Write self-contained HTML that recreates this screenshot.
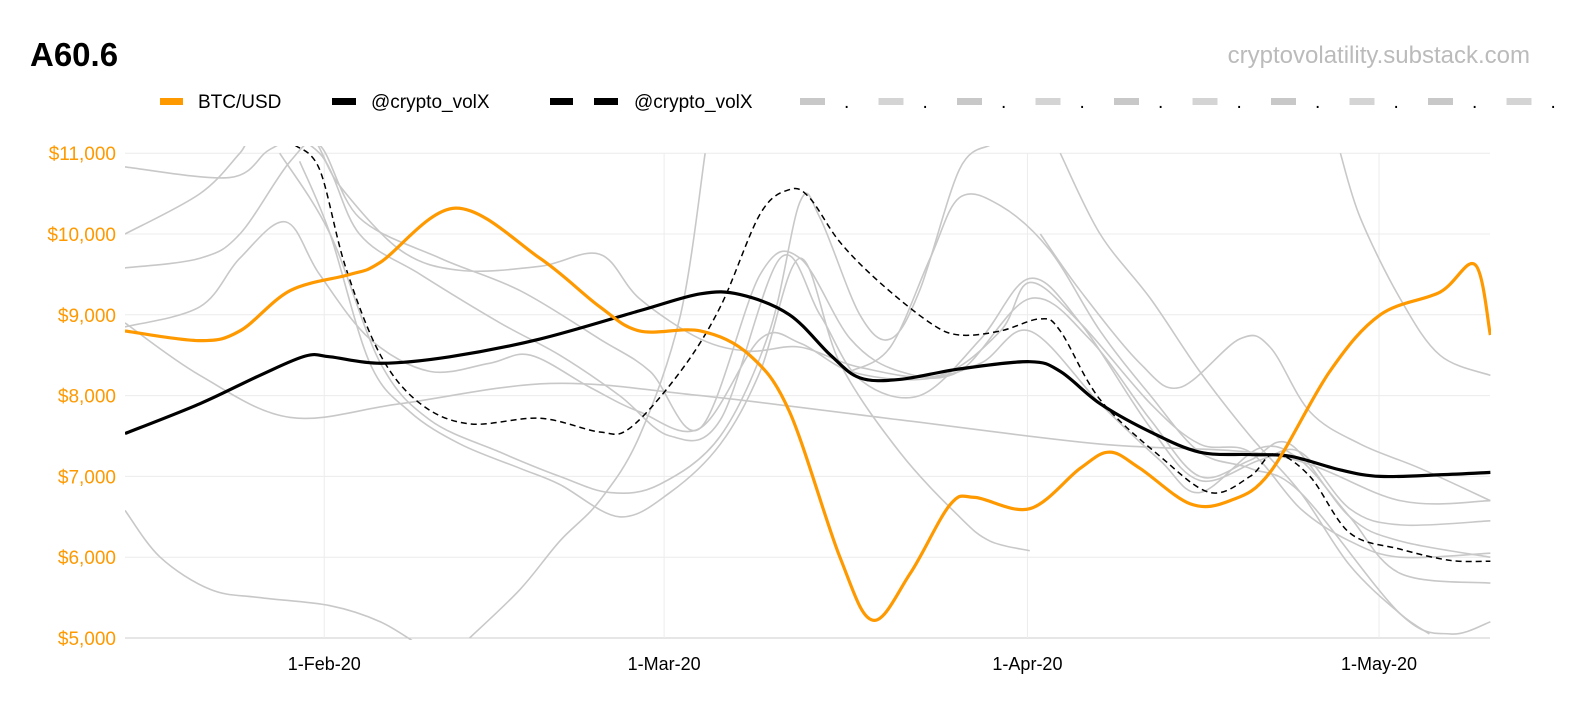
<!DOCTYPE html>
<html><head><meta charset="utf-8"><style>
body{margin:0;background:#fff;font-family:"Liberation Sans",sans-serif}
svg{display:block}
</style></head><body>
<svg id="chart" width="1584" height="722" xmlns="http://www.w3.org/2000/svg">
<rect width="1584" height="722" fill="#fff"/>
<text x="30" y="66" font-size="33" font-weight="bold" fill="#000">A60.6</text>
<text x="1530" y="63" font-size="24" fill="#bbb" text-anchor="end">cryptovolatility.substack.com</text>
<g id="legend" font-size="19" fill="#000">
 <g><rect x="160" y="98" width="23" height="7" fill="#f90"/><text x="198" y="108">BTC/USD</text></g>
 <g><rect x="332" y="98" width="24" height="7" fill="#000"/><text x="371" y="108">@crypto_volX</text></g>
 <g><rect x="550" y="98" width="23" height="7" fill="#000"/><rect x="594" y="98" width="24" height="7" fill="#000"/><text x="634" y="108">@crypto_volX</text></g>
</g>
<g id="grid"></g><g id="axes"></g>
<defs><clipPath id="plotclip"><rect x="125" y="146" width="1366" height="494"/></clipPath></defs>
<g id="series" clip-path="url(#plotclip)"></g>
</svg>
<script>
const NS="http://www.w3.org/2000/svg";
const yTicks=[5000,6000,7000,8000,9000,10000,11000];
const yTickLabels=["$5,000","$6,000","$7,000","$8,000","$9,000","$10,000","$11,000"];
const xTickDays=[17,46,77,107];
const xTickLabels=["1-Feb-20","1-Mar-20","1-Apr-20","1-May-20"];
// day offsets from 15-Jan-20
const btcDays=[0,6.4,9.8,14.1,19.2,21.8,28.2,35.4,40.5,43.9,49.1,53.3,56.7,61,63.8,67,70.4,72.5,77.2,81.5,84,86.6,90.9,94.3,97.7,102.8,107.1,112.2,115.2,116.5];
const btcVals=[8800,8680,8800,9300,9500,9650,10320,9700,9100,8800,8800,8500,7800,6000,5220,5800,6650,6740,6600,7100,7300,7100,6660,6700,7050,8300,9000,9280,9620,8750];
const volDays=[0,6.4,11.5,15.4,17.5,21.8,27.7,35.4,43.9,49.1,52.5,56.7,60.2,62.7,66.1,71.2,77.2,79.8,83.2,87.5,91.7,96,99.4,103.7,107.1,112.2,116.5];
const volVals=[7530,7900,8250,8490,8480,8400,8480,8700,9050,9260,9250,9000,8500,8220,8200,8330,8420,8300,7900,7550,7300,7270,7250,7080,7000,7020,7050];
const dashDays=[14.5,16.6,18.8,21.8,25.2,29.4,35.4,40.5,43.1,47.4,50.8,54.2,56.7,58.4,61,64.4,68.7,71.2,74.7,78.1,79.8,83.2,88.3,92.6,96,98.1,101.1,104.5,108.8,113.1,116.5];
const dashVals=[11100,10800,9600,8500,7900,7650,7720,7550,7600,8300,9100,10250,10550,10450,9900,9400,8900,8750,8800,8950,8800,7950,7250,6800,7000,7280,7000,6300,6100,5960,5950];
const grayDays=[
[0,9,12.4,15.8,18.3,23.5,28.6,35.4,40.5,43.9,49.1,53.3,57.6,62.7,69.5,74.7,77.2,81.5,87.5,91.7,96,100.3,104.5,108.8,116.5],
[0,6.4,9.8,11.5,16.6,20,25.2,32,37.1,42.2,46.5,50.8,55.9,59.3,62.7,67.8,73,77.2,81.5,87.5,91.7,96.8,100.3,104.5,108.8,116.5],
[0,6.4,14.1,23.5,36.3,49.1,66.1,83.2,98.5,108.8,116.5],
[0,6.4,9.8,14.1,16.6,20,26.9,33.7,40.5,44.8,49.1,54.2,57.6,61.9,66.1,71.2,77.2,82.3,87.5,91.7,96,99.4,104.5,108.8,116.5],
[0,6.4,9.8,13.7,16.6,20.9,26,31.1,34.6,39.7,43.9,49.1,54.2,57.6,61.9,67.8,73,77.2,83.2,88.3,91.7,96.8,100.3,104.5,108.8,116.5],
[0,3,7.3,11.5,17.5,21.8,25.2],
[29.4,33.7,37.1,40.5,43.9,47.4,49.5],
[14.9,17.5,20.9,24.3,28.6,33.7,37.1,42.2,46.5,50.8,54.2,57.6,61,66.1,71.2,73.8,77.2],
[13.2,17.5,21.8,26,32,37.1,41.4,45.6,50.8,55,57.6,59.3,62.7,65.3,67.8,71.2,73.8],
[61.9,65.3,68.7,71.2,74.7,78.9,83.2,87.5,91.7,96,100.3,108.8,113.1,116.5],
[103.7,105.4,108.8,112.2,116.5],
[79.8,83.2,87.5,91.7,96,100.3,104.5,108.8,111.3],
[78.1,81.5,86.6,90,95.1,97.7,101.1,105.4,110.5,116.5]
];
const grayVals=[
[10830,10700,11050,11200,10600,9800,9550,9600,9750,9200,8700,8550,8600,8350,8250,8800,9400,8900,7900,7400,7300,6600,6200,6000,6050],
[10000,10500,11000,11300,11000,10000,9500,8900,8500,8000,7500,7700,9700,9000,8200,8000,8700,9450,8900,7600,6950,7200,7300,6600,6400,6450],
[8900,8250,7730,7900,8150,8000,7700,7400,7250,6700,6700],
[9580,9700,10000,10900,11100,10200,9700,9300,8700,8300,7600,9500,9700,8700,8300,8300,9200,8700,7700,7000,7200,7400,6500,6200,6000],
[8850,9100,9700,10150,9500,8700,8300,8400,8500,8100,7800,7600,8700,8650,8300,8200,8400,8800,7900,7200,6800,7350,7200,6500,5800,5680],
[6580,6000,5600,5500,5400,5200,4900],
[5000,5600,6200,6700,7500,9000,11000],
[10900,10000,8400,7800,7400,7100,6900,6500,6800,7400,8300,9700,8400,7300,6500,6200,6080],
[11000,10000,8400,7700,7300,7000,6800,6900,7500,8800,10400,10200,9000,8700,9300,10800,11100],
[8300,8600,9700,10450,10350,9800,8800,8000,7300,7100,6800,5300,5050,5200],
[11000,10200,9200,8500,8250],
[11000,10000,9200,8300,7500,6800,5900,5300,5050],
[10000,9300,8400,8100,8700,8600,7800,7400,7100,6700]
];
const X0=125,PX=11.72,YB=638,PY=80.8/1000;
const xs=d=>X0+d*PX, ys=v=>YB-(v-5000)*PY;
function mk(tag,attrs,parent){const e=document.createElementNS(NS,tag);for(const k in attrs)e.setAttribute(k,attrs[k]);parent.appendChild(e);return e;}
const grid=document.getElementById('grid'),axes=document.getElementById('axes'),ser=document.getElementById('series');
yTicks.forEach((v,i)=>{
 const l=mk('line',{x1:125,x2:1490,y1:ys(v),y2:ys(v),stroke:i==0?'#ccc':'#ececec','stroke-width':1},grid);
 
 
 const t=mk('text',{x:116,y:ys(v)+7,'text-anchor':'end','font-size':19,fill:'#f90'},axes);
 t.textContent=yTickLabels[i];
 
 
});
xTickDays.forEach((d,i)=>{
 const l=mk('line',{x1:xs(d),x2:xs(d),y1:153,y2:638,stroke:'#ececec','stroke-width':1},grid);
 
 
 const t=mk('text',{x:xs(d),y:670,'text-anchor':'middle','font-size':18,fill:'#000'},axes);
 t.textContent=xTickLabels[i];
 
 
});
function pathD(ds,vs){
 const n=Math.min(ds.length,vs.length);
 const p=[];for(let i=0;i<n;i++)p.push([xs(ds[i]),ys(vs[i])]);
 let s=`M${p[0][0]},${p[0][1]}`;
 for(let i=0;i<p.length-1;i++){
  const p0=p[i-1]||p[i],p1=p[i],p2=p[i+1],p3=p[i+2]||p2;
  const c1=[p1[0]+(p2[0]-p0[0])/6,p1[1]+(p2[1]-p0[1])/6],c2=[p2[0]-(p3[0]-p1[0])/6,p2[1]-(p3[1]-p1[1])/6];
  s+=`C${c1[0]},${c1[1]} ${c2[0]},${c2[1]} ${p2[0]},${p2[1]}`;
 }
 return s;
}
grayDays.forEach((ds,i)=>{
 const g=mk('path',{d:pathD(ds,grayVals[i]),fill:'none',stroke:'#c8c8c8','stroke-width':1.6},ser);
 
 
});
const dl=mk('path',{d:pathD(dashDays,dashVals),fill:'none',stroke:'#000','stroke-width':1.5,'stroke-dasharray':'6,4'},ser);


const vl=mk('path',{d:pathD(volDays,volVals),fill:'none',stroke:'#000','stroke-width':3.2},ser);


const bl=mk('path',{d:pathD(btcDays,btcVals),fill:'none',stroke:'#f90','stroke-width':3.2},ser);


const leg=document.getElementById('legend');
for(let k=0;k<10;k++){
 const x=800+k*78.5;
 const r=mk('rect',{x:x,y:98,width:25,height:7,fill:k%2?'#d4d4d4':'#c8c8c8'},leg);
 
 
 const t=mk('text',{x:x+44,y:108,'font-size':19,fill:'#000'},leg);
 t.textContent='.';
 
 
}
</script>
</body></html>
